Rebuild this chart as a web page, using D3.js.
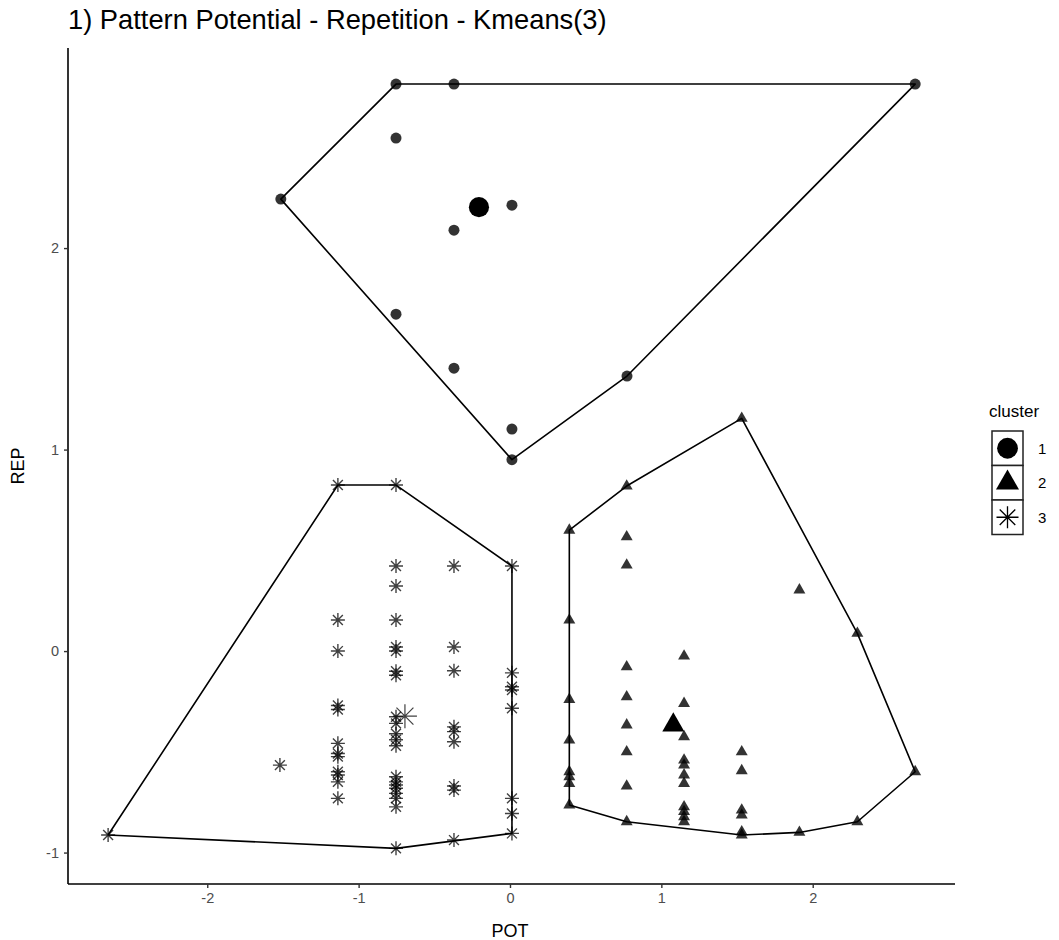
<!DOCTYPE html>
<html>
<head>
<meta charset="utf-8">
<script src="https://cdn.jsdelivr.net/npm/d3@7"></script>
<style>
  body { margin: 0; background: #fff; }
  text { font-family: "Liberation Sans", Arial, sans-serif; }
</style>
</head>
<body>
<div id="chart"></div>
<script>
// cluster 1 (circles)
const pot1 = [-0.753, -0.370, 2.677, -0.753, -1.514, -0.370, 0.013, -0.753, -0.370, 0.773, 0.013, 0.013];
const rep1 = [2.814, 2.814, 2.814, 2.546, 2.243, 2.089, 2.213, 1.672, 1.404, 1.365, 1.102, 0.950];

// cluster 2 (triangles)
const pot2 = [1.531, 0.771, 0.392, 0.392, 0.771, 1.531, 1.912, 2.295, 2.677, 2.295,
  0.392, 0.392, 0.392, 0.392, 0.392, 0.392,
  0.771, 0.771, 0.771, 0.771, 0.771, 0.771, 0.771,
  1.150, 1.150, 1.150, 1.150, 1.150, 1.150, 1.150, 1.150, 1.150, 1.150, 1.150,
  1.531, 1.531, 1.531, 1.531, 1.531,
  1.912];
const rep2 = [1.155, 0.819, 0.600, -0.764, -0.847, -0.913, -0.900, -0.847, -0.599, 0.088,
  0.154, -0.240, -0.442, -0.599, -0.624, -0.657,
  0.567, 0.427, -0.078, -0.227, -0.367, -0.500, -0.670,
  -0.025, -0.260, -0.425, -0.541, -0.566, -0.615, -0.657, -0.773, -0.797, -0.822, -0.847,
  -0.500, -0.594, -0.789, -0.814, -0.897,
  0.303];

// cluster 3 (asterisks)
const pot3 = [-2.655, -1.520,
  -1.137, -1.137, -1.137, -1.137, -1.137, -1.137, -1.137, -1.137, -1.137, -1.137, -1.137, -1.137,
  -0.753, -0.753, -0.753, -0.753, -0.753, -0.753, -0.753, -0.753, -0.753, -0.753, -0.753,
  -0.753, -0.753, -0.753, -0.753, -0.753, -0.753, -0.753, -0.753, -0.753, -0.753,
  -0.370, -0.370, -0.370, -0.370, -0.370, -0.370, -0.370, -0.370, -0.370,
  0.013, 0.013, 0.013, 0.013, 0.013, 0.013, 0.013, 0.013];
const rep3 = [-0.913, -0.566,
  0.824, 0.154, 0.000, -0.270, -0.290, -0.458, -0.508, -0.524, -0.599, -0.615, -0.649, -0.731,
  0.824, 0.422, 0.323, 0.154, 0.020, 0.000, -0.100, -0.120, -0.326, -0.359, -0.410,
  -0.440, -0.470, -0.624, -0.649, -0.665, -0.681, -0.706, -0.731, -0.773, -0.979,
  0.422, 0.020, -0.098, -0.376, -0.400, -0.450, -0.670, -0.690, -0.938,
  0.422, -0.108, -0.177, -0.193, -0.284, -0.731, -0.806, -0.905];

// cluster centres
const centrePot = [-0.205, 1.079, -0.694];
const centreRep = [2.203, -0.367, -0.323];

const clusters = ["1", "2", "3"];
const xTicks = [-2, -1, 0, 1, 2];
const yTicks = [-1, 0, 1, 2];

const W = 1059, H = 940;
const margin = {top: 48, right: 104, bottom: 56, left: 68};

const svg = d3.select("#chart").append("svg")
    .attr("width", W)
    .attr("height", H);

const x = d3.scaleLinear().domain([-2.92, 2.94]).range([margin.left, W - margin.right]);
const y = d3.scaleLinear().domain([-1.156, 2.993]).range([H - margin.bottom, margin.top]);

// asterisk = plus + times (ggplot shape 8)
function asterisk(r) {
    const a = r * Math.SQRT1_2;
    return `M${-r},0H${r}M0,${-r}V${r}M${-a},${-a}L${a},${a}M${-a},${a}L${a},${-a}`;
}

function shapePath(c, big) {
    if (c === 0) return d3.symbol(d3.symbolCircle, big ? 320 : 95)();
    if (c === 1) return d3.symbol(d3.symbolTriangle, big ? 210 : 62)();
    return asterisk(big ? 12 : 7);
}

const groups = [
    d3.zip(pot1, rep1),
    d3.zip(pot2, rep2),
    d3.zip(pot3, rep3)
];

// hulls
groups.forEach(function (pts) {
    const hull = d3.polygonHull(pts.map(p => [x(p[0]), y(p[1])]));
    svg.append("path")
        .attr("d", "M" + hull.join("L") + "Z")
        .attr("fill", "none")
        .attr("stroke", "#000")
        .attr("stroke-width", 1.6)
        .attr("stroke-linejoin", "round");
});

// points
groups.forEach(function (pts, c) {
    svg.append("g").selectAll("path")
        .data(pts)
        .enter().append("path")
        .attr("transform", d => `translate(${x(d[0])},${y(d[1])})`)
        .attr("d", shapePath(c, false))
        .attr("fill", c === 2 ? "none" : "#000")
        .attr("fill-opacity", 0.8)
        .attr("stroke", c === 2 ? "#000" : "none")
        .attr("stroke-opacity", 0.75)
        .attr("stroke-width", 1.4);
});

// centres
svg.append("g").selectAll("path")
    .data(d3.range(3))
    .enter().append("path")
    .attr("transform", i => `translate(${x(centrePot[i])},${y(centreRep[i])})`)
    .attr("d", i => shapePath(i, true))
    .attr("fill", i => i === 2 ? "none" : "#000")
    .attr("stroke", i => i === 2 ? "#000" : "none")
    .attr("stroke-opacity", 0.75)
    .attr("stroke-width", 1.2);

// axes
const xAxis = svg.append("g")
    .attr("transform", `translate(0,${H - margin.bottom})`)
    .call(d3.axisBottom(x).tickValues(xTicks).tickSize(4).tickPadding(5).tickFormat(d => String(d)));
const yAxis = svg.append("g")
    .attr("transform", `translate(${margin.left},0)`)
    .call(d3.axisLeft(y).tickValues(yTicks).tickSize(4).tickPadding(5).tickFormat(d => String(d)));

[xAxis, yAxis].forEach(function (a) {
    a.select(".domain").attr("stroke", "#000").attr("stroke-width", 1.6);
    a.selectAll(".tick line").attr("stroke", "#333").attr("stroke-width", 1.4);
    a.selectAll(".tick text")
        .attr("fill", "#4d4d4d")
        .style("font-size", "14.5px")
        .style("font-family", "'Liberation Sans', Arial, sans-serif");
});
xAxis.select(".domain").attr("d", `M${margin.left},0H${W - margin.right}`);
yAxis.select(".domain").attr("d", `M0,${margin.top}V${H - margin.bottom}`);

// axis titles
svg.append("text")
    .attr("x", x(0))
    .attr("y", 937)
    .attr("text-anchor", "middle")
    .style("font-size", "18px")
    .text("POT");

svg.append("text")
    .attr("transform", `translate(24,${(margin.top + H - margin.bottom) / 2}) rotate(-90)`)
    .attr("text-anchor", "middle")
    .style("font-size", "18px")
    .text("REP");

// title
svg.append("text")
    .attr("x", margin.left)
    .attr("y", 29)
    .style("font-size", "27.3px")
    .text("1) Pattern Potential - Repetition - Kmeans(3)");

// legend
const legend = svg.append("g").attr("transform", "translate(989,0)");
legend.append("text")
    .attr("x", 0)
    .attr("y", 417)
    .style("font-size", "17px")
    .text("cluster");

const keyH = 34.5;
const keys = legend.selectAll(".key")
    .data(clusters)
    .enter().append("g")
    .attr("class", "key")
    .attr("transform", (d, i) => `translate(3,${431 + i * keyH})`);

keys.append("rect")
    .attr("width", 31)
    .attr("height", keyH)
    .attr("fill", "#fff")
    .attr("stroke", "#222")
    .attr("stroke-width", 1.5);

keys.append("path")
    .attr("transform", `translate(15.5,${keyH / 2})`)
    .attr("d", (d, i) => i === 0 ? d3.symbol(d3.symbolCircle, 340)()
        : i === 1 ? d3.symbol(d3.symbolTriangle, 230)() : asterisk(11))
    .attr("fill", (d, i) => i === 2 ? "none" : "#000")
    .attr("stroke", (d, i) => i === 2 ? "#000" : "none")
    .attr("stroke-width", 1.3);

keys.append("text")
    .attr("x", 46)
    .attr("y", keyH / 2 + 5.5)
    .style("font-size", "15px")
    .text(d => d);
</script>
</body>
</html>
